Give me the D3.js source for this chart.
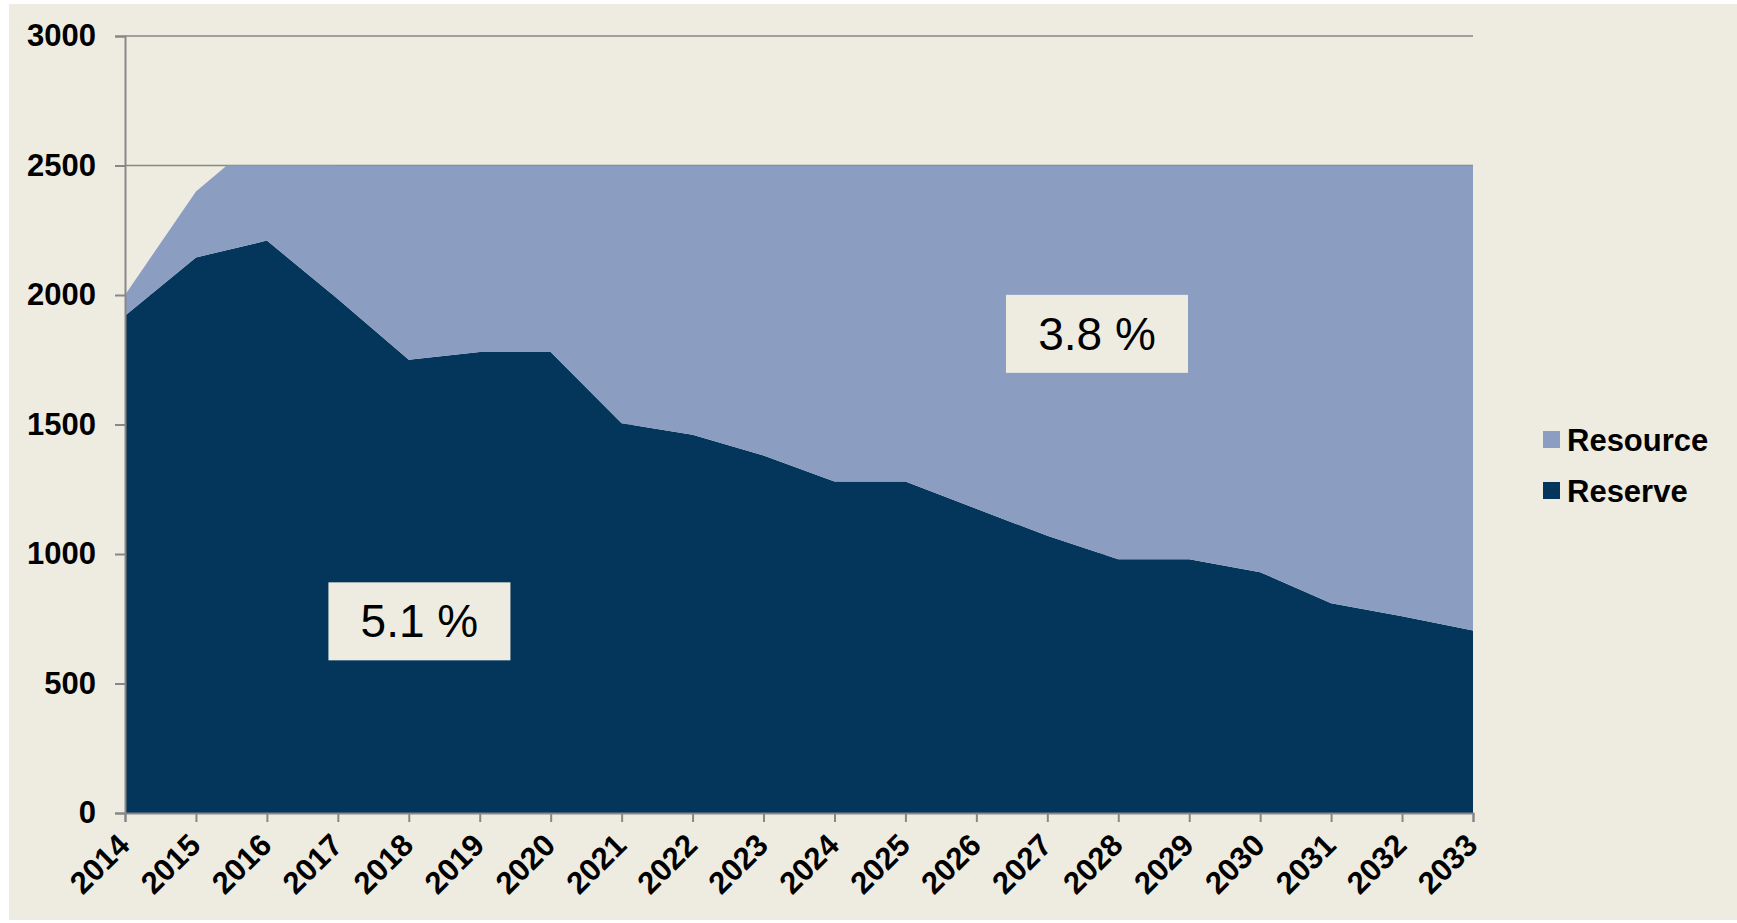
<!DOCTYPE html>
<html>
<head>
  <meta charset="utf-8">
  <title>Reserve and resource</title>
  <script type="text/javascript" src="https://cdn.jsdelivr.net/npm/d3@7/dist/d3.min.js"></script>
  <style>
    body {
      margin: 0;
      background: #ffffff;
    }
    svg text {
      font-family: "Liberation Sans", Arial, sans-serif;
    }
  </style>
</head>
<body>
  <svg id="chart"></svg>
  <script>
    // chart data
    var years = [2014, 2015, 2016, 2017, 2018, 2019, 2020, 2021, 2022, 2023,
                 2024, 2025, 2026, 2027, 2028, 2029, 2030, 2031, 2032, 2033];
    var reserve = [1920, 2145, 2210, 1985, 1750, 1780, 1780, 1505, 1460, 1380,
                   1280, 1280, 1175, 1070, 980, 980, 930, 810, 760, 705];
    var resource = [80, 255, 420, 515, 750, 720, 720, 995, 1040, 1120,
                    1220, 1220, 1325, 1430, 1520, 1520, 1570, 1690, 1740, 1795];
    var yTicks = [0, 500, 1000, 1500, 2000, 2500, 3000];
    var seriesNames = ["Resource", "Reserve"];
    var seriesColors = ["#8b9ec2", "#03365a"];
    // the stacked total is drawn cut off at this level
    var capValue = 2500;
    // growth-rate notes on the chart
    var noteLabels = ["5.1 %", "3.8 %"];
    var noteYears = [2018.15, 2027.7];
    var noteValues = [740, 1850];

    var width = 1737, height = 923;
    // plot box (note: "top" is a reserved window property, so no bare names)
    var plotLeft = 125, plotRight = 1473, plotTop = 36, plotBottom = 813;

    var svg = d3.select("#chart")
        .attr("width", width)
        .attr("height", height);

    svg.append("rect")
        .attr("x", 9).attr("y", 4)
        .attr("width", width - 9).attr("height", 916)
        .attr("fill", "#eeece1");

    var x = d3.scaleLinear().domain([years[0], years[years.length - 1]]).range([plotLeft, plotRight]);
    var y = d3.scaleLinear().domain([0, 3000]).range([plotBottom, plotTop]);

    // gridlines
    svg.append("g")
        .selectAll("line")
        .data(yTicks.filter(function(d) { return d > 0; }))
        .join("line")
        .attr("x1", plotLeft).attr("x2", plotRight)
        .attr("y1", function(d) { return y(d); })
        .attr("y2", function(d) { return y(d); })
        .attr("stroke", "#878787")
        .attr("stroke-width", 1.5);

    // stacked areas
    var rows = years.map(function(yr, i) {
        return {year: yr, Reserve: reserve[i], Resource: resource[i]};
    });
    var stack = d3.stack().keys(["Reserve", "Resource"]);
    var layers = stack(rows);

    svg.append("clipPath")
        .attr("id", "cap")
      .append("rect")
        .attr("x", plotLeft).attr("y", y(capValue))
        .attr("width", plotRight - plotLeft).attr("height", plotBottom - y(capValue));

    var area = d3.area()
        .x(function(d) { return x(d.data.year); })
        .y0(function(d) { return y(d[0]); })
        .y1(function(d) { return y(d[1]); });

    var colorOf = {Resource: seriesColors[0], Reserve: seriesColors[1]};

    svg.append("g")
        .attr("clip-path", "url(#cap)")
        .selectAll("path")
        .data(layers)
        .join("path")
        .attr("d", area)
        .attr("fill", function(d) { return colorOf[d.key]; });

    // axes
    var yAxis = svg.append("g")
        .attr("transform", "translate(" + plotLeft + ",0)")
        .call(d3.axisLeft(y).tickValues(yTicks).tickSize(10).tickPadding(19).tickFormat(d3.format("d")));
    yAxis.select(".domain").attr("stroke", "#878787").attr("stroke-width", 2);
    yAxis.selectAll(".tick line").attr("stroke", "#878787").attr("stroke-width", 2);
    yAxis.selectAll("text")
        .attr("font-size", 31)
        .attr("font-weight", "bold")
        .attr("fill", "#000");

    var xAxis = svg.append("g")
        .attr("transform", "translate(0," + plotBottom + ")")
        .call(d3.axisBottom(x).tickValues(years).tickSize(9).tickFormat(d3.format("d")));
    xAxis.select(".domain").attr("stroke", "#878787").attr("stroke-width", 2);
    xAxis.selectAll(".tick line").attr("stroke", "#878787").attr("stroke-width", 2);
    xAxis.selectAll("text")
        .attr("x", 0).attr("y", 0).attr("dy", 0)
        .attr("text-anchor", "end")
        .attr("transform", "translate(6,34) rotate(-45)")
        .attr("font-size", 31)
        .attr("font-weight", "bold")
        .attr("fill", "#000");

    // notes
    var notes = svg.append("g")
        .selectAll("g")
        .data(noteLabels)
        .join("g")
        .attr("transform", function(d, i) {
            return "translate(" + x(noteYears[i]) + "," + y(noteValues[i]) + ")";
        });
    notes.append("rect")
        .attr("x", -91).attr("y", -39)
        .attr("width", 182).attr("height", 78)
        .attr("fill", "#eeece1");
    notes.append("text")
        .attr("text-anchor", "middle")
        .attr("dy", 16)
        .attr("font-size", 46)
        .attr("fill", "#000")
        .text(function(d) { return d; });

    // legend
    var legend = svg.append("g")
        .attr("transform", "translate(1543,431)")
        .selectAll("g")
        .data(seriesNames)
        .join("g")
        .attr("transform", function(d, i) { return "translate(0," + (i * 51) + ")"; });
    legend.append("rect")
        .attr("width", 17).attr("height", 17)
        .attr("fill", function(d, i) { return seriesColors[i]; });
    legend.append("text")
        .attr("x", 24).attr("y", 20)
        .attr("font-size", 31)
        .attr("font-weight", "bold")
        .attr("fill", "#000")
        .text(function(d) { return d; });
  </script>
</body>
</html>
